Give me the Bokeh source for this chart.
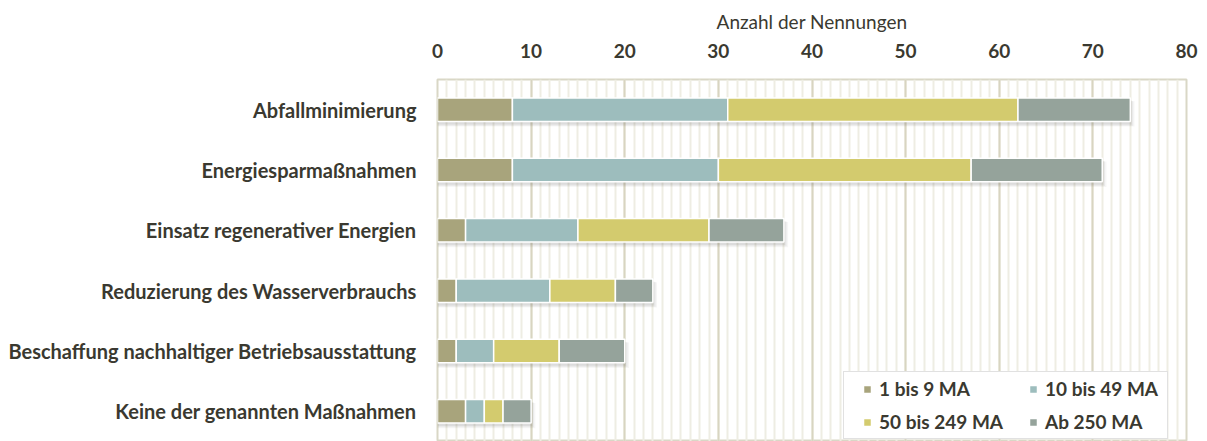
from bokeh.plotting import figure
from bokeh.models import (ColumnDataSource, FactorRange, Legend, LegendItem,
                          SingleIntervalTicker)
from bokeh.transform import dodge
from bokeh.embed import file_html
from bokeh.resources import INLINE

categories = ["Abfallminimierung", "Energiesparmaßnahmen", "Einsatz regenerativer Energien",
              "Reduzierung des Wasserverbrauchs", "Beschaffung nachhaltiger Betriebsausstattung",
              "Keine der genannten Maßnahmen"]
series_names = ["1 bis 9 MA", "10 bis 49 MA", "50 bis 249 MA", "Ab 250 MA"]
s1 = [8, 8, 3, 2, 2, 3]
s2 = [23, 22, 12, 10, 4, 2]
s3 = [31, 27, 14, 7, 7, 2]
s4 = [12, 14, 8, 4, 7, 3]
colors = ["#a8a47c", "#9dbdbd", "#d3cb6e", "#95a39b"]
x_title = "Anzahl der Nennungen"

FONT = "Lato"
TXT = "#3a3930"

data = {"cat": categories}
series = [s1, s2, s3, s4]
acc = [0] * len(categories)
for i, s in enumerate(series):
    data[f"l{i}"] = list(acc)
    acc = [a + v for a, v in zip(acc, s)]
    data[f"r{i}"] = list(acc)
data["total"] = acc
data["sh1"] = [t + 0.15 for t in acc]
data["sh2"] = [t + 0.3 for t in acc]
data["sh3"] = [t + 0.45 for t in acc]
src = ColumnDataSource(data)

p = figure(width=1200, height=441, output_backend="svg", toolbar_location=None,
           x_range=(0, 80), y_range=FactorRange(factors=categories[::-1]),
           x_axis_location="above", min_border_left=437, min_border_right=14,
           min_border_top=79, min_border_bottom=0)
p.background_fill_color = "white"
p.border_fill_color = "white"
p.outline_line_color = "#d9d7c6"
p.outline_line_width = 2

# soft shadow under bars
for off, right, h, a in [(-0.07, "sh3", 0.42, 0.05), (-0.06, "sh2", 0.41, 0.07),
                         (-0.045, "sh1", 0.40, 0.09)]:
    p.hbar(y=dodge("cat", off, range=p.y_range), left=0, right=right, height=h,
           source=src, fill_color="#555555", fill_alpha=a, line_color=None)

renderers = []
for i in range(4):
    r = p.hbar(y="cat", left=f"l{i}", right=f"r{i}", height=0.39, source=src,
               fill_color=colors[i], line_color="white", line_width=1.5)
    renderers.append(r)

xa = p.xaxis[0]
xa.ticker = SingleIntervalTicker(interval=10, num_minor_ticks=10)
xa.axis_label = x_title
xa.axis_label_text_font = FONT
xa.axis_label_text_font_style = "normal"
xa.axis_label_text_font_size = "19px"
xa.axis_label_text_color = TXT
xa.axis_label_standoff = 8
xa.major_label_text_font = FONT
xa.major_label_text_font_style = "bold"
xa.major_label_text_font_size = "19px"
xa.major_label_text_color = TXT
xa.major_label_standoff = 16
xa.axis_line_color = None
xa.major_tick_line_color = None
xa.minor_tick_line_color = None

ya = p.yaxis[0]
ya.major_label_text_font = FONT
ya.major_label_text_font_style = "bold"
ya.major_label_text_font_size = "20px"
ya.major_label_text_color = TXT
ya.major_label_standoff = 15
ya.axis_line_color = None
ya.major_tick_line_color = None

p.xgrid.grid_line_color = "#d8d5c1"
p.xgrid.grid_line_width = 2
p.xgrid.minor_grid_line_color = "#eeede3"
p.xgrid.minor_grid_line_width = 2
p.ygrid.grid_line_color = None

# legend frame (invisible dummy item sized to the box)
dummy = p.hbar(y=[], left=[], right=[], height=0.1, fill_alpha=0, line_alpha=0)
box = Legend(items=[LegendItem(label=" ", renderers=[dummy])], location=(406, 2),
             glyph_width=1, glyph_height=1, label_standoff=0, label_width=322,
             label_height=66, padding=0, margin=0, spacing=0,
             border_line_color="#c4c4c4", border_line_width=1.5,
             background_fill_color="white", background_fill_alpha=1,
             label_text_font_size="1px")
p.add_layout(box, "center")

def col_legend(idx, x):
    return Legend(items=[LegendItem(label=series_names[i], renderers=[renderers[i]]) for i in idx],
                  location=(x, 8), orientation="vertical",
                  glyph_width=10, glyph_height=10, label_text_font=FONT,
                  label_text_font_style="bold", label_text_font_size="19px",
                  label_text_color=TXT, border_line_color=None,
                  background_fill_alpha=0, padding=0, margin=0, spacing=10,
                  label_standoff=7, label_height=22)

p.add_layout(col_legend([0, 2], 425), "center")
p.add_layout(col_legend([1, 3], 591), "center")

open("out.html", "w").write(file_html(p, INLINE))
